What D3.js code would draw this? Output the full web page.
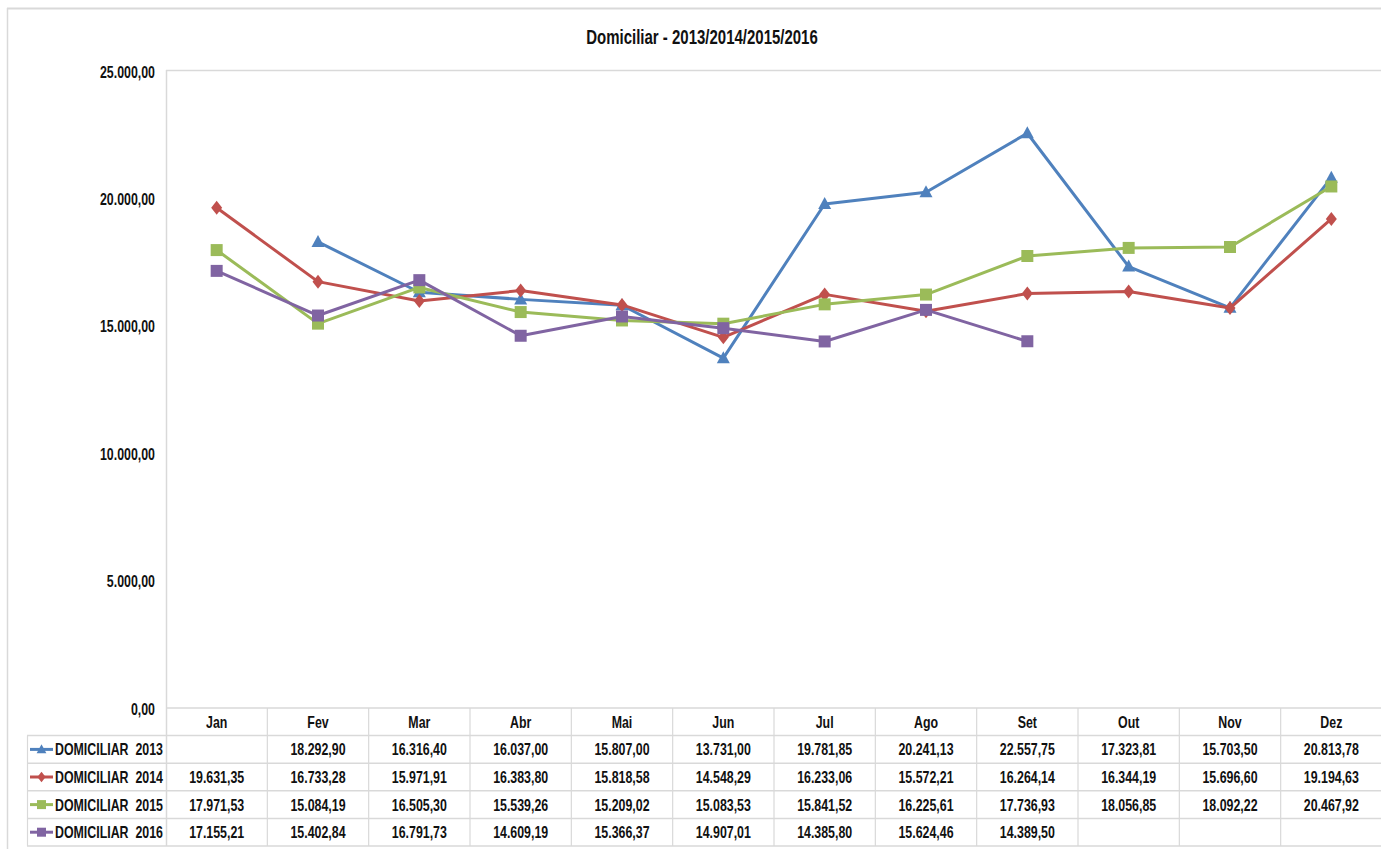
<!DOCTYPE html>
<html>
<head>
<meta charset="utf-8">
<script src="https://cdn.jsdelivr.net/npm/d3@7"></script>
<style>
  body { margin: 0; background: #fff; }
  text { font-family: "Liberation Sans", Arial, sans-serif; font-weight: bold; fill: #111; white-space: pre; }
</style>
</head>
<body>
<svg id="chart" width="1381" height="849"></svg>
<script>
'use strict';

// data
const months = ["Jan", "Fev", "Mar", "Abr", "Mai", "Jun", "Jul", "Ago", "Set", "Out", "Nov", "Dez"];
const dom2013 = [null, 18292.90, 16316.40, 16037.00, 15807.00, 13731.00, 19781.85, 20241.13, 22557.75, 17323.81, 15703.50, 20813.78];
const dom2014 = [19631.35, 16733.28, 15971.91, 16383.80, 15818.58, 14548.29, 16233.06, 15572.21, 16264.14, 16344.19, 15696.60, 19194.63];
const dom2015 = [17971.53, 15084.19, 16505.30, 15539.26, 15209.02, 15083.53, 15841.52, 16225.61, 17736.93, 18056.85, 18092.22, 20467.92];
const dom2016 = [17155.21, 15402.84, 16791.73, 14609.19, 15366.37, 14907.01, 14385.80, 15624.46, 14389.50, null, null, null];
const seriesNames = ["DOMICILIAR  2013", "DOMICILIAR  2014", "DOMICILIAR  2015", "DOMICILIAR  2016"];
const yTicks = [0, 5000, 10000, 15000, 20000, 25000];

const series = [
    { name: seriesNames[0], values: dom2013, color: "#4F81BD", marker: "triangle" },
    { name: seriesNames[1], values: dom2014, color: "#C0504D", marker: "diamond" },
    { name: seriesNames[2], values: dom2015, color: "#9BBB59", marker: "square" },
    { name: seriesNames[3], values: dom2016, color: "#8064A2", marker: "square" }
];

const svg = d3.select("#chart");
const plotLeft = 166, plotRight = 1382, plotTop = 71, plotBottom = 708;
const rowH = 27.6, tableLeft = 27;
const gridColor = "#d9d9d9";
const squeeze = 0.75;   // fake the narrow font of the original

// number format pt-BR style: 25.000,00
const ptBR = d3.formatLocale({ decimal: ",", thousands: ".", grouping: [3], currency: ["R$", ""] });
const fmt = ptBR.format(",.2f");

const x = d3.scaleBand().domain(months).range([plotLeft, plotRight]);
const y = d3.scaleLinear().domain([0, 25000]).range([plotBottom, plotTop]);

// place a text at (tx,ty) squeezed horizontally
function narrowAt(sel, tx, ty, k) {
    const sx = k || squeeze;
    sel.attr("x", 0).attr("y", 0)
        .attr("transform", (d, i) => {
            const xx = typeof tx === "function" ? tx(d, i) : tx;
            const yy = typeof ty === "function" ? ty(d, i) : ty;
            return `translate(${xx},${yy}) scale(${sx},1)`;
        });
    return sel;
}

// outer frame
svg.append("line").attr("x1", 7).attr("x2", 1381).attr("y1", 8.5).attr("y2", 8.5).attr("stroke", gridColor).attr("stroke-width", 2);
svg.append("line").attr("x1", 7.5).attr("x2", 7.5).attr("y1", 8).attr("y2", 849).attr("stroke", gridColor).attr("stroke-width", 1.5);

// title
svg.append("text").attr("text-anchor", "middle").style("font-size", "20px")
    .text("Domiciliar - 2013/2014/2015/2016")
    .call(narrowAt, 702, 44);

// plot area border (top + left)
svg.append("line").attr("x1", plotLeft).attr("x2", plotRight).attr("y1", plotTop - 0.5).attr("y2", plotTop - 0.5).attr("stroke", gridColor).attr("stroke-width", 1.5);
svg.append("line").attr("x1", plotLeft + 0.5).attr("x2", plotLeft + 0.5).attr("y1", plotTop - 1).attr("y2", plotBottom + rowH * 5).attr("stroke", gridColor).attr("stroke-width", 1.5);

// y axis labels
const yAxis = d3.axisLeft(y).tickValues(yTicks).tickFormat(fmt).tickSize(0).tickPadding(11);
const yg = svg.append("g").attr("transform", `translate(${plotLeft},0)`).call(yAxis);
yg.select(".domain").remove();
yg.attr("font-family", null).attr("font-size", null);
yg.selectAll("text").style("font-size", "16.5px").attr("dy", null)
    .call(narrowAt, -11, 6);

// data table
const table = svg.append("g");
// horizontal rules
for (let r = 0; r <= 5; r++) {
    const yy = plotBottom + r * rowH;
    table.append("line")
        .attr("x1", r === 0 ? plotLeft : tableLeft).attr("x2", plotRight)
        .attr("y1", yy).attr("y2", yy)
        .attr("stroke", gridColor).attr("stroke-width", 1.5);
}
// vertical rules
months.forEach(m => {
    table.append("line")
        .attr("x1", x(m) + x.bandwidth()).attr("x2", x(m) + x.bandwidth())
        .attr("y1", plotBottom).attr("y2", plotBottom + rowH * 5)
        .attr("stroke", gridColor).attr("stroke-width", 1.2);
});
table.append("line").attr("x1", tableLeft + 0.5).attr("x2", tableLeft + 0.5)
    .attr("y1", plotBottom + rowH).attr("y2", plotBottom + rowH * 5)
    .attr("stroke", gridColor).attr("stroke-width", 1.2);

// header
table.selectAll(".hdr").data(months).enter().append("text")
    .attr("text-anchor", "middle").style("font-size", "16.5px")
    .text(d => d)
    .call(narrowAt, d => x(d) + x.bandwidth() / 2, plotBottom + rowH / 2 + 6);

function markerPath(type, cx, cy) {
    if (type === "triangle") {
        return `M${cx},${cy - 7}L${cx + 6.5},${cy + 5}L${cx - 6.5},${cy + 5}Z`;
    }
    if (type === "diamond") {
        return `M${cx},${cy - 7}L${cx + 5.5},${cy}L${cx},${cy + 7}L${cx - 5.5},${cy}Z`;
    }
    return `M${cx - 6},${cy - 6}h12v12h-12Z`;
}

series.forEach((s, i) => {
    const rowY = plotBottom + rowH * (i + 1);
    const cy = rowY + rowH / 2;
    // legend key
    table.append("line").attr("x1", 30).attr("x2", 53).attr("y1", cy).attr("y2", cy)
        .attr("stroke", s.color).attr("stroke-width", 3);
    table.append("path").attr("d", markerPath(s.marker, 41.5, cy)).attr("fill", s.color)
        .attr("transform", `translate(${41.5},${cy}) scale(0.75) translate(${-41.5},${-cy})`);
    table.append("text").style("font-size", "16.5px")
        .text(s.name)
        .call(narrowAt, 55, cy + 6);
    // values
    table.selectAll(null).data(s.values).enter().append("text")
        .attr("text-anchor", "middle").style("font-size", "16.5px")
        .text(d => d == null ? "" : fmt(d))
        .call(narrowAt, (d, j) => x(months[j]) + x.bandwidth() / 2, cy + 6);
});

// lines
const line = d3.line()
    .defined(d => d.v != null)
    .x(d => x(d.m) + x.bandwidth() / 2)
    .y(d => y(d.v));

series.forEach(s => {
    const pts = months.map((m, j) => ({ m: m, v: s.values[j] }));
    svg.append("path").datum(pts)
        .attr("d", line)
        .attr("fill", "none")
        .attr("stroke", s.color)
        .attr("stroke-width", 3)
        .attr("stroke-linejoin", "round");
    svg.append("g").selectAll("path").data(pts.filter(d => d.v != null)).enter().append("path")
        .attr("d", d => markerPath(s.marker, x(d.m) + x.bandwidth() / 2, y(d.v)))
        .attr("fill", s.color);
});
</script>
</body>
</html>
